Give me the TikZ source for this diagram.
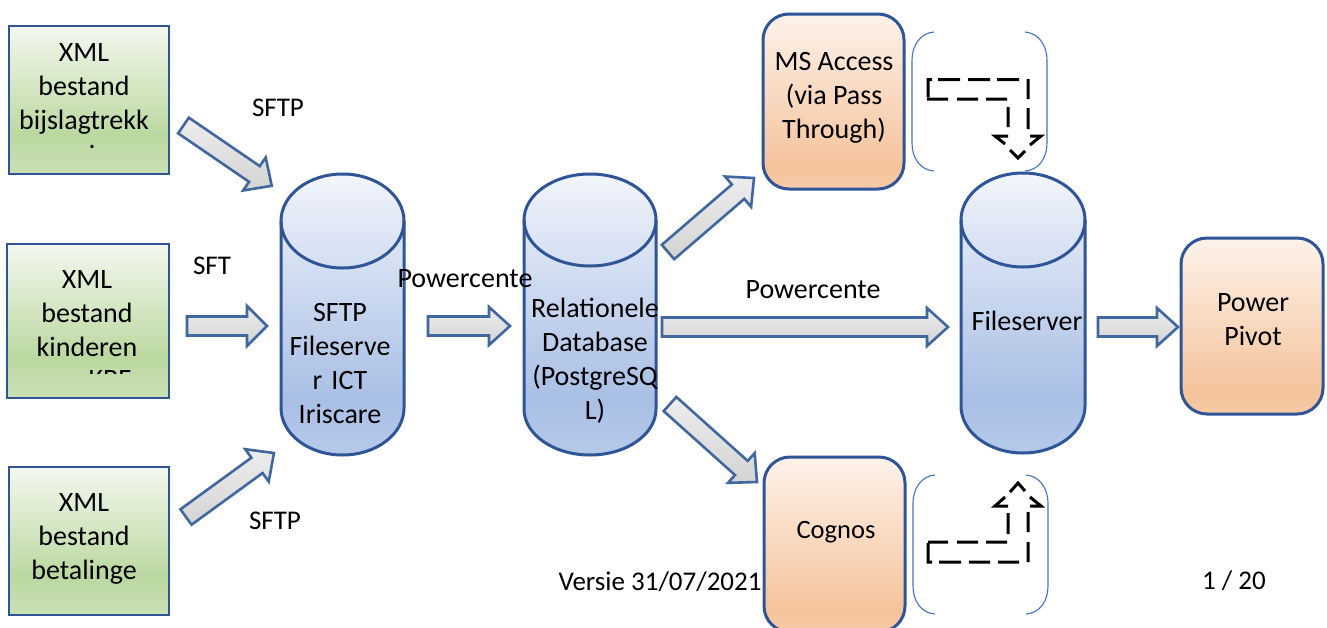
\documentclass[tikz,border=0pt]{standalone}
\usepackage{fontspec}
\setmainfont{Carlito}
\usetikzlibrary{calc}
\definecolor{edge}{HTML}{2F5597}
\definecolor{thin}{HTML}{4472C4}
\definecolor{arrowedge}{HTML}{41679F}
\definecolor{g1}{HTML}{F3F8EF}\definecolor{g2}{HTML}{BBD8A0}\definecolor{g3}{HTML}{C9E1B6}
\definecolor{o1}{HTML}{FDF2EA}\definecolor{o2}{HTML}{F5C39B}\definecolor{o3}{HTML}{F7CBA8}
\definecolor{b1}{HTML}{F3F6FC}\definecolor{b2}{HTML}{A9BFE5}\definecolor{b3}{HTML}{B6C9EA}
\pgfdeclareverticalshading{gshade}{100bp}{color(0bp)=(g3);color(25bp)=(g3);color(38bp)=(g2);color(75bp)=(g1);color(100bp)=(g1)}
\pgfdeclareverticalshading{oshade}{100bp}{color(0bp)=(o3);color(25bp)=(o3);color(31bp)=(o2);color(75bp)=(o1);color(100bp)=(o1)}
\pgfdeclareverticalshading{bshade}{100bp}{color(0bp)=(b3);color(25bp)=(b3);color(35bp)=(b2);color(70bp)=(b1!85!b2);color(75bp)=(b1);color(100bp)=(b1)}
\tikzset{
  txt/.style={font=\fontsize{28}{34}\selectfont,align=center,inner sep=0pt,text=black},
  lab/.style={font=\fontsize{27}{34}\selectfont,align=center,inner sep=0pt,text=black},
  greenbox/.style={draw=edge,line width=2.6pt,shading=gshade},
  orangebox/.style={draw=edge,line width=3pt,shading=oshade,rounded corners=26pt},
  cylbody/.style={draw=edge,line width=3pt,shading=bshade},
  blockar/.style={draw=arrowedge,line width=2.6pt,top color=gray!14,bottom color=gray!34,miter limit=6},
  bracket/.style={draw=thin,line width=1.1pt},
  dashpieces/.style={draw=black,line width=3pt},
}
\newcommand\cylinder[6]{% name x1 x2 ytop ybot ry
  \pgfmathsetmacro\cx{(#2+#3)/2}\pgfmathsetmacro\rx{(#3-#2)/2}
  \pgfmathsetmacro\yc{#4+#6}\pgfmathsetmacro\ybc{#5-#6}
  \pgfmathsetmacro\kx{0.5523*\rx}\pgfmathsetmacro\ky{0.5523*#6}
  \path[cylbody] (#2,\yc) .. controls (#2,\yc-\ky) and (\cx-\kx,#4) .. (\cx,#4)
     .. controls (\cx+\kx,#4) and (#3,\yc-\ky) .. (#3,\yc)
     -- (#3,\ybc) .. controls (#3,\ybc+\ky) and (\cx+\kx,#5) .. (\cx,#5)
     .. controls (\cx-\kx,#5) and (#2,\ybc+\ky) .. (#2,\ybc) -- cycle;
  \draw[draw=edge,line width=3pt] (#2,\yc) .. controls (#2,\yc+\ky) and (\cx-\kx,\yc+#6) .. (\cx,\yc+#6)
     .. controls (\cx+\kx,\yc+#6) and (#3,\yc+\ky) .. (#3,\yc);
  \coordinate (#1) at (\cx,\yc);
}
\newcommand\blockarrow[5]{% from to shaft/2 head/2 headlen
  \path let \p1=($(#2)-(#1)$), \n1={veclen(\x1,\y1)}, \n2={atan2(\y1,\x1)} in
    \pgfextra{\pgfmathsetmacro\tmplen{\n1}\xdef\arlen{\tmplen}\pgfmathsetmacro\tmpang{\n2}\xdef\arang{\tmpang}};
  \path[shift={(#1)},rotate=\arang,blockar]
    (0,-#3) -- ({\arlen-#5},-#3) -- ({\arlen-#5},-#4) -- (\arlen,0) -- ({\arlen-#5},#4) -- ({\arlen-#5},#3) -- (0,#3) -- cycle;
}
\begin{document}
\begin{tikzpicture}[x=1pt,y=-1pt]
\clip (0,0) rectangle (1327,627);
\fill[white] (0,0) rectangle (1327,627);
% green boxes
\path[greenbox] (9,26) rectangle (169,174);
\path[greenbox] (7,244) rectangle (169,398);
\path[greenbox] (9,467) rectangle (169,615);
\node[txt] (x1) at (84,89) {XML\\bestand\\bijslagtrekk};
\begin{scope}
\clip (60,100) rectangle (120,148);
\node[txt,anchor=base] (x1b) at (92,164) {i};
\end{scope}
\node[txt] (x2) at (87,314) {XML\\bestand\\kinderen};
\begin{scope}
\clip (60,340) rectangle (150,373);
\node[txt,anchor=base] (x2b) at (110,388) {KBF};
\end{scope}
\node[txt] (x3) at (84,539) {XML\\bestand\\betalinge};
% cylinders
\cylinder{c1}{281}{404}{174}{455}{47}
\cylinder{c2}{524}{656}{174}{455}{46}
\cylinder{c3}{961}{1085}{173}{453}{47}
\node[txt] (c1t) at (340,364) {SFTP\\Fileserve\\r\hspace{9pt}ICT\\Iriscare};
\node[txt] (c2t) at (595,361) {Relationele\\Database\\(PostgreSQ\\L)};
\node[txt] (c3t) at (1027,321) {Fileserver};
% orange boxes
\path[orangebox] (763,14) rectangle (904,189);
\path[orangebox] (764,457) rectangle (905,632);
\path[orangebox] (1181,238) rectangle (1323,414);
\node[txt] (o1) at (834,98) {MS Access\\(via Pass\\Through)};
\node[lab,font=\fontsize{26.5}{34}\selectfont] (o2) at (836,532) {Cognos};
\node[txt] (o3) at (1253,320) {Power\\Pivot};
% block arrows
\coordinate (a1s) at (183.5,125.5); \coordinate (a1e) at (272,186);
\coordinate (a2s) at (187,326); \coordinate (a2e) at (267,326);
\coordinate (a3s) at (186,517); \coordinate (a3e) at (274,453);
\coordinate (a4s) at (428,326); \coordinate (a4e) at (510,326);
\coordinate (a5s) at (668,252); \coordinate (a5e) at (754,178);
\coordinate (a6s) at (662,327); \coordinate (a6e) at (948,327);
\coordinate (a7s) at (670,404); \coordinate (a7e) at (757,482);
\coordinate (a8s) at (1098,327); \coordinate (a8e) at (1178,327);
\blockarrow{a1s}{a1e}{9.5}{20}{21}
\blockarrow{a2s}{a2e}{9.5}{20}{20}
\blockarrow{a3s}{a3e}{9.5}{20}{21}
\blockarrow{a4s}{a4e}{9.5}{19}{21}
\blockarrow{a5s}{a5e}{9.5}{20}{21}
\blockarrow{a6s}{a6e}{9.5}{19}{21}
\blockarrow{a7s}{a7e}{9.5}{20}{21}
\blockarrow{a8s}{a8e}{9.5}{19}{21}
% brackets
\draw[bracket] (934,32) .. controls (920,33) and (912,46) .. (912,60) -- (912,143) .. controls (912,158) and (920,170) .. (934,171);
\draw[bracket] (1025,32) .. controls (1039,33) and (1047,46) .. (1047,60) -- (1047,143) .. controls (1047,158) and (1039,170) .. (1025,171);
\draw[bracket] (935,475) .. controls (921,476) and (913,489) .. (913,503) -- (913,586) .. controls (913,601) and (921,613) .. (935,614);
\draw[bracket] (1026,475) .. controls (1040,476) and (1048,489) .. (1048,503) -- (1048,586) .. controls (1048,601) and (1040,613) .. (1026,614);
% dashed bent arrows, dash by dash
\draw[dashpieces]
  (932,79.5) -- (928,79.5) -- (928,97)
  (938,79.5) -- (960,79.5) (968,79.5) -- (990,79.5) (997,79.5) -- (1019,79.5)
  (1028,79) -- (1028,99) (1028,108) -- (1028,129)
  (1030,136) -- (1041,136) -- (1030,145)
  (1010,150) -- (1018,158) -- (1025,151)
  (1005,144) -- (995,136) -- (1008,136)
  (1008,107) -- (1008,127)
  (927,99) -- (948,99) (957,99) -- (978,99) (986,99) -- (1007,99);
\draw[dashpieces]
  (928,542) -- (948,542) (957,542) -- (978,542) (986,542) -- (1007,542)
  (932,562) -- (928,562) -- (928,543)
  (939,562) -- (961,562) (969,562) -- (990,562) (998,562) -- (1019,562)
  (1028,562) -- (1028,542) (1028,532) -- (1028,512)
  (1008,534) -- (1008,513)
  (1005,497) -- (995,506) -- (1008,506)
  (1030,506) -- (1041,506) -- (1030,497)
  (1010,492) -- (1018,483) -- (1025,491);
% labels
\node[lab] (l1) at (278,108) {SFTP};
\node[lab] (l2) at (212,266) {SFT};
\node[lab] (l3) at (275,521) {SFTP};
\node[txt] (l4) at (465,279) {Powercente};
\node[txt] (l5) at (813,290) {Powercente};
\node[lab] (l6) at (660,582) {Versie 31/07/2021};
\node[lab] (l7) at (1234,581) {1 / 20};
\end{tikzpicture}
\end{document}
